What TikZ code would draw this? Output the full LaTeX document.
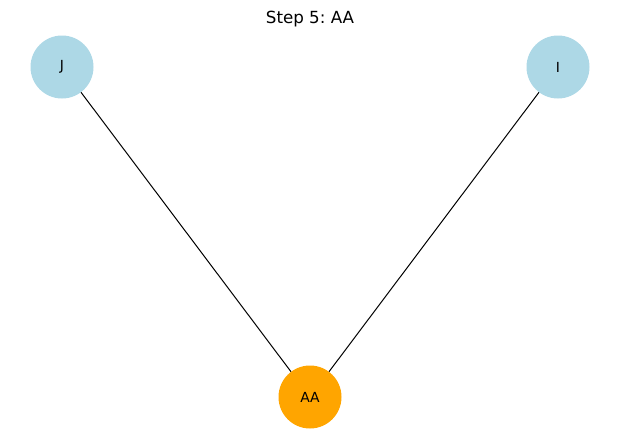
\documentclass[tikz,border=0pt]{standalone}
\usepackage{fontspec}
\setmainfont{DejaVu Sans}
\frenchspacing
\definecolor{nodeblue}{RGB}{173,216,230}
\definecolor{nodeorange}{RGB}{255,165,0}
\tikzset{
  vertex/.style={circle, minimum size=63pt, inner sep=0pt, font=\fontsize{13.9}{16}\selectfont},
  edge/.style={black, line width=1pt}
}
\begin{document}
\begin{tikzpicture}[x=1pt,y=-1pt]
			\useasboundingbox (0,0) rectangle (619,442);
			\node[anchor=base, font=\fontsize{16.7}{20}\selectfont] (title) at (310,23) {Step 5: AA};
			\node[vertex, fill=nodeblue] (J) at (62,67) {J};
			\node[vertex, fill=nodeblue] (I) at (558,67) {I};
			\node[vertex, fill=nodeorange] (AA) at (310,397) {AA};
			\draw[edge] (J) -- (AA);
			\draw[edge] (I) -- (AA);
			\end{tikzpicture}
\end{document}
